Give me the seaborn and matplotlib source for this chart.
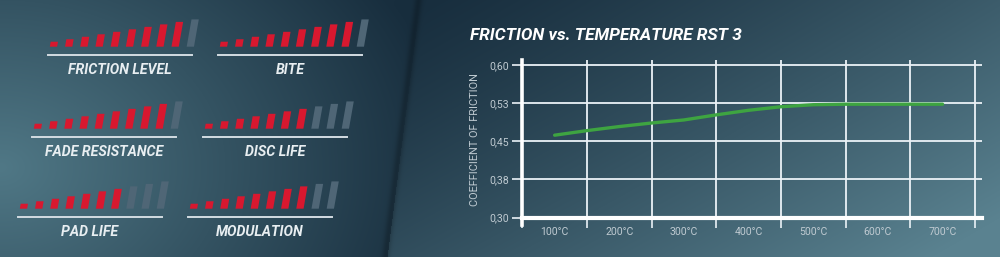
import numpy as np
import pandas as pd
import matplotlib
matplotlib.use("Agg")
import matplotlib.pyplot as plt
from matplotlib.transforms import Affine2D
import seaborn as sns

# ---------------- data ----------------
temps = [100, 150, 200, 250, 300, 350, 400, 450, 500, 550, 600, 650, 700]
friction = [0.462, 0.471, 0.479, 0.486, 0.492, 0.502, 0.511, 0.518, 0.522,
            0.523, 0.523, 0.523, 0.523]
temp_ticks = [100, 200, 300, 400, 500, 600, 700]
temp_labels = ["100°C", "200°C", "300°C", "400°C", "500°C", "600°C", "700°C"]
y_ticks = [0.30, 0.375, 0.45, 0.525, 0.60]
y_tick_labels = ["0,30", "0,38", "0,45", "0,53", "0,60"]
title = "FRICTION vs. TEMPERATURE RST 3"
y_label = "COEFFICIENT OF FRICTION"

rating_names = ["FRICTION LEVEL", "BITE", "FADE RESISTANCE", "DISC LIFE",
                "PAD LIFE", "MODULATION"]
rating_values = [9, 9, 9, 7, 7, 8]
rating_max = 10

# ---------------- style ----------------
sns.set_theme(style="white")
plt.rcParams['font.family'] = ['Roboto', 'DejaVu Sans']

W, H = 1000, 257
fig = plt.figure(figsize=(W / 100, H / 100), dpi=100)

# background gradient
yy, xx = np.mgrid[0:H, 0:W]
X = xx / W
Y = yy / H
b = 0.420 - 0.033 * Y
dark = np.array([24, 46, 62]) / 255.0
light_l = np.array([80, 120, 134]) / 255.0
light_r = np.array([90, 130, 144]) / 255.0
tl = np.clip(1 - np.sqrt((X / 0.45) ** 2 + ((Y - 0.65) / 1.3) ** 2), 0, 1)
tr = np.clip(((X - b) / (1 - b)) * 0.62 + Y * 0.45, 0, 1) ** 1.25
left = X < b
t = np.where(left, tl, tr)
c0 = dark[None, None, :]
c1 = np.where(left[..., None], light_l[None, None, :], light_r[None, None, :])
img = c0 + t[..., None] * (c1 - c0)
shade = 1 - 0.22 * np.exp(-((X - b + 0.002) / 0.004) ** 2)
img = img * shade[..., None]
img = np.clip(img, 0, 1)
bg = fig.add_axes([0, 0, 1, 1], zorder=-10)
bg.imshow(img, aspect='auto', extent=[0, 1, 0, 1], origin='upper')
bg.axis('off')

# ---------------- line chart ----------------
ax = fig.add_axes([522.3 / W, 39.5 / H, 459.7 / W, 157.5 / H])
ax.patch.set_alpha(0)
sns.lineplot(x=temps, y=friction, ax=ax, color='#3ea441', linewidth=2.4,
             solid_capstyle='round', zorder=5)
ax.set_xlim(50, 761)
ax.set_ylim(0.30, 0.61)
ax.set_xticks(list(range(50, 751, 100)))
ax.set_xticklabels([])
ax.set_xticks(temp_ticks, minor=True)
ax.set_xticklabels(temp_labels, minor=True)
ax.set_yticks(y_ticks)
ax.set_yticklabels(y_tick_labels)
grid_c = (0.92, 0.95, 0.97, 0.85)
lab_c = '#bfcad1'
ax.tick_params(axis='x', which='major', length=7, width=1.4, color=grid_c,
               bottom=True, labelbottom=False)
ax.tick_params(axis='x', which='minor', length=0, labelsize=7.6,
               labelcolor=lab_c, pad=7)
ax.tick_params(axis='y', which='major', length=7, width=1.4, color=grid_c,
               left=True, labelsize=7.6, labelcolor=lab_c, pad=2.5)
ax.grid(True, which='major', color=grid_c, linewidth=1.3)
for s in ['top', 'right']:
    ax.spines[s].set_visible(False)
ax.spines['left'].set_color('white')
ax.spines['left'].set_linewidth(2.6)
ax.spines['left'].set_bounds(0.2852, 0.61)
ax.spines['bottom'].set_color('white')
ax.spines['bottom'].set_linewidth(3)
ax.set_ylabel(y_label, fontsize=7.9, color=lab_c)
ax.yaxis.set_label_coords(-0.092, 0.492)
ax.set_xlabel('')

fig.text(469.5 / W, 1 - 35.5 / H, title, fontsize=12.4, fontweight='bold',
         fontstyle='italic', color='white', ha='left', va='center')

# ---------------- rating groups ----------------
layout = [(48, 55), (218, 55), (32, 137), (203, 137), (18, 217), (188, 217)]
red = '#d8182f'
grey = '#4f6676'
px_per_unit = 2.48
y_lo, y_hi = -3.35, 11.2
for name, val, (ul_x, ul_y) in zip(rating_names, rating_values, layout):
    levels = list(range(1, rating_max + 1))
    df = pd.DataFrame({
        'level': [str(l) for l in levels],
        'height': [l + 1 for l in levels],
        'state': ['on' if l <= val else 'off' for l in levels],
    })
    hpx = (y_hi - y_lo) * px_per_unit
    gax = fig.add_axes([ul_x / W, (H - ul_y) / H, 144 / W, hpx / H])
    gax.patch.set_alpha(0)
    sns.barplot(data=df, x='level', y='height', hue='state',
                palette={'on': red, 'off': grey}, dodge=False, width=0.48,
                ax=gax, legend=False, saturation=1)
    gax.set_xlim(-0.36, 9.11)
    gax.set_ylim(y_lo, y_hi)
    gax.set_xticks([])
    gax.set_yticks([])
    gax.set_xlabel('')
    gax.set_ylabel('')
    for s in ['top', 'right', 'left']:
        gax.spines[s].set_visible(False)
    gax.spines['bottom'].set_color('#d3dce2')
    gax.spines['bottom'].set_linewidth(1.4)
    y0 = gax.transData.transform((0, 0))[1]
    skew = Affine2D().translate(0, -y0).skew_deg(10, 0).translate(0, y0)
    for p in gax.patches:
        p.set_transform(gax.transData + skew)
        p.set_linewidth(0)
        p.set_clip_on(False)
    fig.text((ul_x + 72) / W, 1 - (ul_y + 15) / H, name, fontsize=10.2,
             fontweight='bold', fontstyle='italic', color='#e8eef1',
             ha='center', va='center')

fig.savefig('out.png', dpi=100)
